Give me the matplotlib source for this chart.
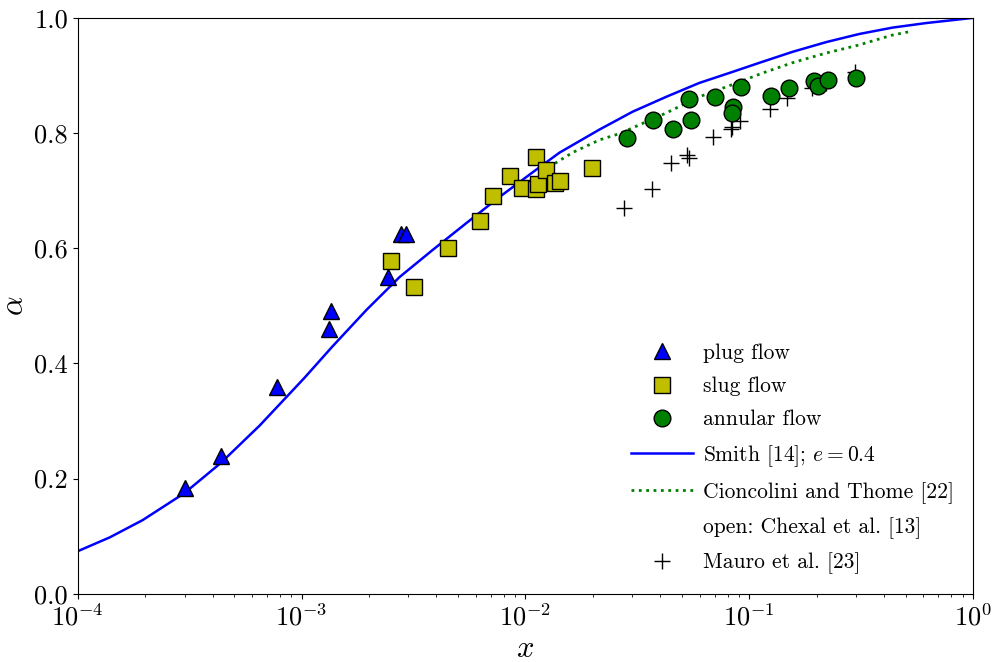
import matplotlib
matplotlib.use("Agg")
import matplotlib.pyplot as plt
from matplotlib.lines import Line2D

plt.rcParams["font.family"] = "serif"
plt.rcParams["font.serif"] = ["cmr10", "DejaVu Serif"]
plt.rcParams["mathtext.fontset"] = "cm"
plt.rcParams["axes.unicode_minus"] = False
plt.rcParams["axes.formatter.use_mathtext"] = True

# Measured void fraction versus quality, by flow regime
plug_x = [3.0e-4, 4.35e-4, 7.8e-4, 1.36e-3, 1.33e-3, 2.42e-3, 2.77e-3, 2.94e-3]
plug_a = [0.184, 0.240, 0.359, 0.491, 0.460, 0.550, 0.625, 0.625]

slug_x = [2.52e-3, 3.19e-3, 4.49e-3, 6.29e-3, 7.19e-3, 8.49e-3, 9.7e-3,
          1.11e-2, 1.11e-2, 1.14e-2, 1.24e-2, 1.36e-2, 1.43e-2, 1.99e-2]
slug_a = [0.578, 0.533, 0.601, 0.648, 0.691, 0.726, 0.705,
          0.759, 0.703, 0.712, 0.736, 0.714, 0.717, 0.740]

annular_x = [2.83e-2, 3.72e-2, 4.58e-2, 5.51e-2, 5.40e-2, 7.05e-2, 9.2e-2,
             8.49e-2, 8.4e-2, 0.125, 0.151, 0.195, 0.203, 0.225, 0.301]
annular_a = [0.792, 0.823, 0.807, 0.823, 0.859, 0.863, 0.880,
             0.845, 0.835, 0.865, 0.878, 0.891, 0.882, 0.892, 0.896]

# Mauro et al. data
mauro_x = [2.77e-2, 3.66e-2, 4.49e-2, 5.28e-2, 5.4e-2, 6.9e-2, 8.3e-2, 8.4e-2,
           9.1e-2, 0.124, 0.148, 0.191, 0.198, 0.221, 0.297]
mauro_a = [0.670, 0.703, 0.748, 0.762, 0.757, 0.793, 0.807, 0.811,
           0.821, 0.842, 0.861, 0.878, 0.884, 0.887, 0.906]

# Smith correlation, e = 0.4
smith_x = [1e-4, 1.39e-4, 1.95e-4, 3.0e-4, 4.35e-4, 6.49e-4, 1.03e-3, 1.37e-3,
           1.95e-3, 2.74e-3, 3.85e-3, 5.46e-3, 7.66e-3, 1.07e-2, 1.42e-2,
           2.14e-2, 3.01e-2, 4.26e-2, 5.98e-2, 8.39e-2, 0.111, 0.156, 0.221,
           0.310, 0.435, 0.617, 1.0]
smith_a = [0.074, 0.098, 0.128, 0.175, 0.227, 0.292, 0.375, 0.429,
           0.493, 0.550, 0.597, 0.644, 0.689, 0.731, 0.766,
           0.806, 0.837, 0.863, 0.887, 0.906, 0.922, 0.941, 0.958,
           0.972, 0.983, 0.991, 1.0]

# Cioncolini and Thome correlation
ct_x = [0.01191, 0.01622, 0.02138, 0.0263, 0.0301, 0.0426, 0.0598, 0.0839,
        0.1143, 0.1556, 0.2208, 0.3097, 0.4345, 0.5346]
ct_a = [0.734, 0.766, 0.788, 0.799, 0.809, 0.835, 0.863, 0.884,
        0.904, 0.922, 0.939, 0.953, 0.970, 0.977]

fig = plt.figure(figsize=(9.97, 6.62), dpi=100)
ax = fig.add_axes([0.078, 0.103, 0.898, 0.870])

h_smith, = ax.plot(smith_x, smith_a, color="b", lw=1.8,
                   label=r"Smith [14]; $e=0.4$")
h_ct, = ax.plot(ct_x, ct_a, color="g", ls=":", lw=2.0,
                label="Cioncolini and Thome [22]")
h_mauro, = ax.plot(mauro_x, mauro_a, ls="none", marker="+", ms=12, mew=1.0,
                   color="k", label="Mauro et al. [23]")
h_plug, = ax.plot(plug_x, plug_a, ls="none", marker="^", ms=12, mfc="b",
                  mec="k", mew=1.0, label="plug flow")
h_slug, = ax.plot(slug_x, slug_a, ls="none", marker="s", ms=11, mfc="y",
                  mec="k", mew=1.0, label="slug flow")
h_ann, = ax.plot(annular_x, annular_a, ls="none", marker="o", ms=12, mfc="g",
                 mec="k", mew=1.0, label="annular flow")
h_open = Line2D([], [], ls="none", marker="none",
                label="open: Chexal et al. [13]")

ax.set_xscale("log")
ax.set_xlim(1e-4, 1)
ax.set_ylim(0, 1)
ax.set_yticks([0, 0.2, 0.4, 0.6, 0.8, 1.0])
ax.set_yticklabels(["0.0", "0.2", "0.4", "0.6", "0.8", "1.0"])
ax.tick_params(labelsize=19)
ax.set_xlabel(r"$x$", fontsize=22)
ax.set_ylabel(r"$\alpha$", fontsize=22)

ax.legend(handles=[h_plug, h_slug, h_ann, h_smith, h_ct, h_open, h_mauro],
          loc="lower right", frameon=False, fontsize=15.5, handlelength=2.9,
          handletextpad=0.45, labelspacing=0.63)

fig.savefig("out.png", dpi=100)
